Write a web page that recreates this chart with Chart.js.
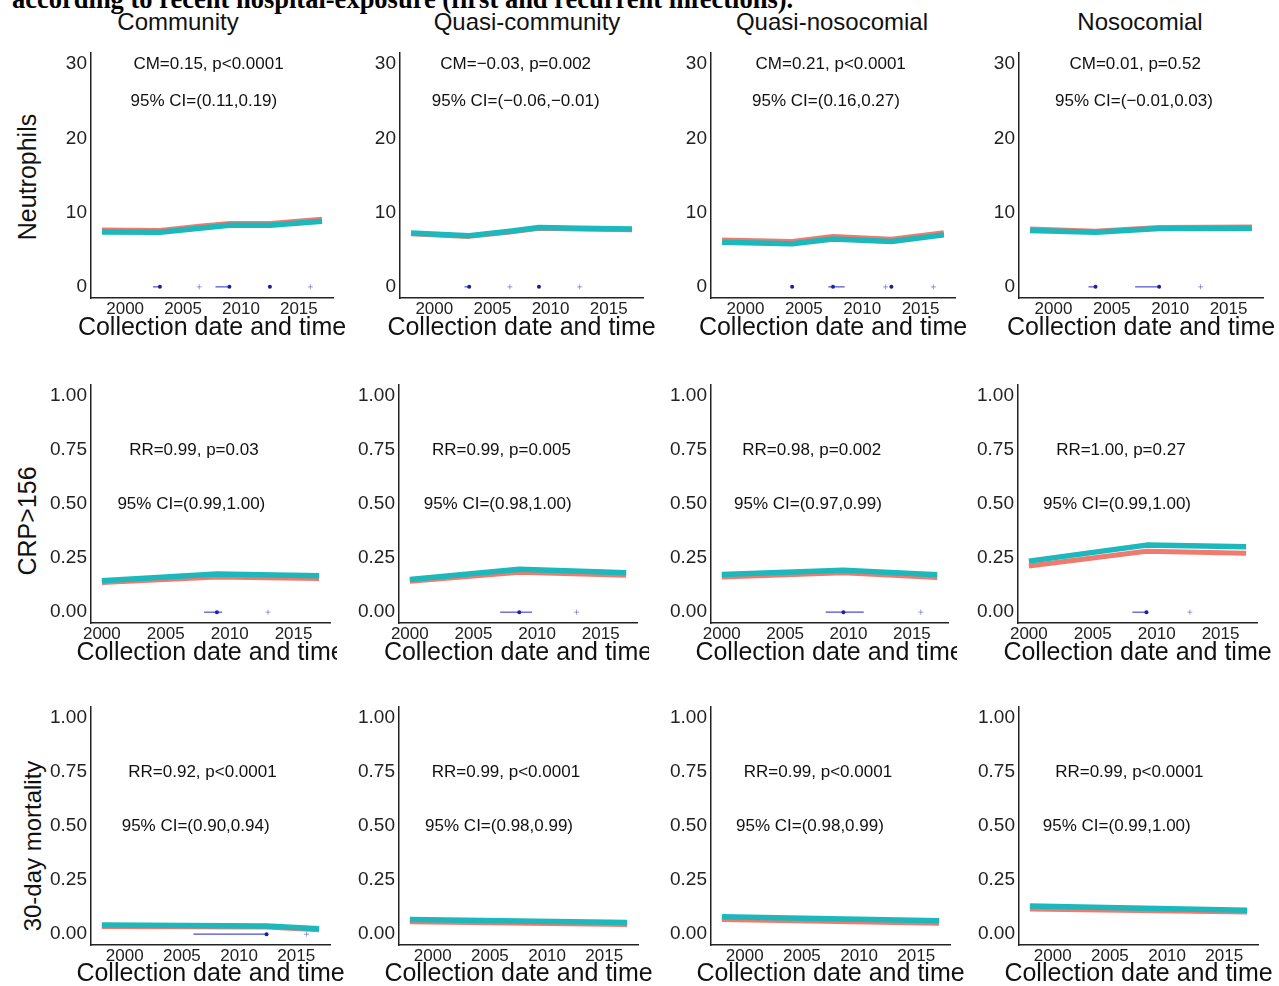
<!DOCTYPE html>
<html>
<head>
<meta charset="utf-8">
<script src="https://cdn.jsdelivr.net/npm/chart.js@4.4.1/dist/chart.umd.min.js"></script>
<style>
  html, body { margin: 0; padding: 0; background: #fff; overflow: hidden; }
  body { width: 1279px; height: 986px; position: relative; font-family: "Liberation Sans", Arial, sans-serif; color: #111; }
  canvas { position: absolute; }
  .lbl { position: absolute; white-space: nowrap; line-height: 1; transform: translate(-50%, -50%); }
  .rot { transform: translate(-50%, -50%) rotate(-90deg); }
  .caption { position: absolute; left: 12px; top: -14px; font-family: "Liberation Serif", "Times New Roman", serif;
             font-weight: bold; font-size: 26.5px; line-height: 26.5px; white-space: nowrap; color: #000; }
</style>
</head>
<body>
<div class="caption">according to recent hospital-exposure (first and recurrent infections).</div>
<script>
// panel titles / row titles
const columns = ['Community', 'Quasi-community', 'Quasi-nosocomial', 'Nosocomial'];
const outcomes = ['Neutrophils', 'CRP>156', '30-day mortality'];
const xTitle = 'Collection date and time';
const xTicks = [2000, 2005, 2010, 2015];
const neutTicks = [0, 10, 20, 30];
const propTicks = [0, 0.25, 0.5, 0.75, 1];

// Neutrophils: fitted segments (red = observed group, teal = second group)
const neutYears = [[1998, 2003, 2006.4, 2009, 2012.5, 2017], [1998, 2003, 2006.5, 2009, 2012.5, 2017],
                   [1998, 2004, 2007.5, 2012.5, 2017], [1998, 2003.6, 2009.05, 2017]];
const neutRed  = [[7.65, 7.6, 8.15, 8.55, 8.55, 9.1], [7.15, 6.8, 7.4, 7.9, 7.8, 7.7],
                  [6.3, 6.1, 6.8, 6.4, 7.3], [7.8, 7.5, 8.0, 8.05]];
const neutTeal = [[7.4, 7.35, 7.9, 8.3, 8.3, 8.85], [7.25, 6.9, 7.5, 8.0, 7.9, 7.8],
                  [6.0, 5.8, 6.45, 6.1, 7.0], [7.6, 7.35, 7.85, 7.9]];
const neutBp    = [[2003.0, 2009.0, 2012.5], [2003.0, 2009.0], [2004.0, 2007.5, 2012.5], [2003.6, 2009.05]];
const neutBpLo  = [[2002.4, 2007.8, 2012.5], [2002.6, 2009.0], [2004.0, 2007.1, 2012.5], [2003.0, 2007.0]];
const neutBpHi  = [[2003.0, 2009.0, 2012.5], [2003.0, 2009.0], [2004.0, 2008.5, 2012.5], [2003.6, 2009.05]];
const neutMinor = [[2006.4, 2016.0], [2006.5, 2012.5], [2012.0, 2016.1], [2012.6]];
const neutStat = ['CM=0.15, p<0.0001', 'CM=\u22120.03, p=0.002', 'CM=0.21, p<0.0001', 'CM=0.01, p=0.52'];
const neutCI   = ['95% CI=(0.11,0.19)', '95% CI=(\u22120.06,\u22120.01)', '95% CI=(0.16,0.27)', '95% CI=(\u22120.01,0.03)'];

// CRP>156
const crpYears = [[2000, 2009, 2017], [2000, 2008.6, 2017], [2000, 2009.6, 2017], [2000, 2009.2, 2017]];
const crpRed  = [[0.137, 0.163, 0.156], [0.143, 0.184, 0.171], [0.163, 0.182, 0.160], [0.213, 0.282, 0.272]];
const crpTeal = [[0.145, 0.176, 0.168], [0.151, 0.198, 0.182], [0.174, 0.194, 0.173], [0.236, 0.310, 0.302]];
const crpBp    = [[2009.0], [2008.6], [2009.6], [2009.2]];
const crpBpLo  = [[2008.0], [2007.1], [2008.2], [2008.1]];
const crpBpHi  = [[2009.4], [2009.6], [2011.2], [2009.2]];
const crpMinor = [[2013.0], [2013.1], [2015.7], [2012.6]];
const crpStat = ['RR=0.99, p=0.03', 'RR=0.99, p=0.005', 'RR=0.98, p=0.002', 'RR=1.00, p=0.27'];
const crpCI   = ['95% CI=(0.99,1.00)', '95% CI=(0.98,1.00)', '95% CI=(0.97,0.99)', '95% CI=(0.99,1.00)'];

// 30-day mortality
const mortYears = [[1998, 2012.4, 2017], [1998, 2017], [1998, 2017], [1998, 2017]];
const mortRed  = [[0.036, 0.033, 0.021], [0.058, 0.045], [0.068, 0.050], [0.116, 0.102]];
const mortTeal = [[0.042, 0.038, 0.025], [0.068, 0.054], [0.080, 0.062], [0.130, 0.111]];
const mortBp    = [[2012.4], [], [], []];
const mortBpLo  = [[2006.0], [], [], []];
const mortBpHi  = [[2012.4], [], [], []];
const mortMinor = [[2015.9], [], [], []];
const mortStat = ['RR=0.92, p<0.0001', 'RR=0.99, p<0.0001', 'RR=0.99, p<0.0001', 'RR=0.99, p<0.0001'];
const mortCI   = ['95% CI=(0.90,0.94)', '95% CI=(0.98,0.99)', '95% CI=(0.98,0.99)', '95% CI=(0.99,1.00)'];

const rows = [
  { years: neutYears, red: neutRed, teal: neutTeal, bp: neutBp, lo: neutBpLo, hi: neutBpHi, minor: neutMinor, stat: neutStat, ci: neutCI, ticks: neutTicks },
  { years: crpYears, red: crpRed, teal: crpTeal, bp: crpBp, lo: crpBpLo, hi: crpBpHi, minor: crpMinor, stat: crpStat, ci: crpCI, ticks: propTicks },
  { years: mortYears, red: mortRed, teal: mortTeal, bp: mortBp, lo: mortBpLo, hi: mortBpHi, minor: mortMinor, stat: mortStat, ci: mortCI, ticks: propTicks }
];

// layout of the grid (pixels) and where the stats text sits (data coords)
const geom = [
  { top: 53, bottom: 298, titleY: 328, left: [91, 400, 711, 1019], right: [333, 643, 955, 1263], clip: [355, 665, 975, 1279],
    yMin: -1.5, yMax: 31.5, xMin: 1997.05, xMax: 2017.95, statY: 30, ciY: 25,
    statX: [2007.2, 2007.0, 2007.3, 2007.0], ciX: [2006.8, 2007.0, 2006.9, 2006.9] },
  { top: 385, bottom: 623, titleY: 653, left: [91, 399, 711, 1018], right: [330, 637, 948, 1257], clip: [337, 649, 957, 1279],
    yMin: -0.05, yMax: 1.05, xMin: 1999.15, xMax: 2017.85, statY: 0.75, ciY: 0.5,
    statX: [2007.2, 2007.2, 2007.1, 2007.2], ciX: [2007.0, 2006.9, 2006.8, 2006.9] },
  { top: 707, bottom: 945, titleY: 974, left: [91, 399, 711, 1019], right: [330, 638, 950, 1258], clip: [350, 660, 970, 1279],
    yMin: -0.05, yMax: 1.05, xMin: 1997.05, xMax: 2017.95, statY: 0.75, ciY: 0.5,
    statX: [2006.8, 2006.4, 2006.4, 2006.7], ciX: [2006.2, 2005.8, 2005.7, 2005.6] }
];
const colTitleX = [178, 527, 832, 1140];
const rowTitlePos = [[27, 177, 25], [27, 521, 25], [33, 846, 24]];
const fontFam = '"Liberation Sans", Arial, sans-serif';

// stats annotations + x-axis title (drawn without squeezing to the plot width)
const panelText = {
  id: 'panelText',
  afterDraw(chart, args, opts) {
    const ctx = chart.ctx, xs = chart.scales.x, ys = chart.scales.y, a = chart.chartArea;
    ctx.save();
    ctx.fillStyle = '#111';
    ctx.textAlign = 'center';
    ctx.textBaseline = 'middle';
    ctx.font = '17px ' + fontFam;
    opts.items.forEach(it => ctx.fillText(it.text, xs.getPixelForValue(it.x), ys.getPixelForValue(it.y)));
    ctx.font = '25px ' + fontFam;
    ctx.fillText(xTitle, (a.left + a.right) / 2, opts.titleY);
    ctx.restore();
  }
};

function addLabel(text, x, y, size, rotate) {
  const el = document.createElement('div');
  el.className = rotate ? 'lbl rot' : 'lbl';
  el.textContent = text;
  el.style.left = x + 'px';
  el.style.top = y + 'px';
  el.style.fontSize = size + 'px';
  document.body.appendChild(el);
}

columns.forEach((t, i) => addLabel(t, colTitleX[i], 22, 24, false));
outcomes.forEach((t, i) => addLabel(t, rowTitlePos[i][0], rowTitlePos[i][1], rowTitlePos[i][2], true));

function makePanel(r, c) {
  const g = geom[r], d = rows[r];
  const yw = 48, padTop = 16;
  const left = g.left[c] - yw, top = g.top - padTop;
  const bottom = g.titleY + 13;
  const W = g.clip[c] - left, H = bottom - top;
  const xh = bottom - g.bottom;

  const cv = document.createElement('canvas');
  cv.width = W; cv.height = H;
  cv.style.left = left + 'px'; cv.style.top = top + 'px';
  cv.style.width = W + 'px'; cv.style.height = H + 'px';
  document.body.appendChild(cv);

  const datasets = [];
  d.bp[c].forEach((b, i) => datasets.push({
    data: [{ x: d.lo[c][i], y: 0 }, { x: d.hi[c][i], y: 0 }],
    borderColor: 'rgba(45,45,200,0.85)', borderWidth: 1.2, pointRadius: 0
  }));
  datasets.push({
    data: d.bp[c].map(x => ({ x, y: 0 })), showLine: false,
    pointRadius: 2, pointBackgroundColor: '#1a1a9a', pointBorderWidth: 0
  });
  datasets.push({
    data: d.minor[c].map(x => ({ x, y: 0 })), showLine: false, pointStyle: 'cross',
    pointRadius: 2.5, pointBorderColor: 'rgba(90,90,210,0.6)', pointBorderWidth: 1
  });
  datasets.push({
    data: d.years[c].map((x, i) => ({ x, y: d.teal[c][i] })),
    borderColor: '#1db8bb', borderWidth: 5.5, pointRadius: 0, borderCapStyle: 'butt', borderJoinStyle: 'round'
  });
  datasets.push({
    data: d.years[c].map((x, i) => ({ x, y: d.red[c][i] })),
    borderColor: '#f07a6e', borderWidth: 5, pointRadius: 0, borderCapStyle: 'butt', borderJoinStyle: 'round'
  });

  new Chart(cv, {
    type: 'line',
    data: { datasets },
    plugins: [panelText],
    options: {
      responsive: false, animation: false, devicePixelRatio: 1,
      layout: { padding: { left: 0, top: padTop, right: g.clip[c] - g.right[c], bottom: 0 } },
      plugins: {
        legend: { display: false }, tooltip: { enabled: false },
        panelText: {
          titleY: g.titleY - top,
          items: [
            { text: d.stat[c], x: g.statX[c], y: g.statY },
            { text: d.ci[c], x: g.ciX[c], y: g.ciY }
          ]
        }
      },
      scales: {
        x: {
          type: 'linear', min: g.xMin, max: g.xMax,
          afterBuildTicks: s => { s.ticks = xTicks.map(v => ({ value: v })); },
          afterFit: s => { s.height = xh; },
          grid: { display: false, drawTicks: false },
          border: { display: true, color: '#222', width: 1.5 },
          ticks: { autoSkip: false, maxRotation: 0, padding: 1, color: '#222',
                   font: { family: fontFam, size: 17 }, callback: v => String(v) }
        },
        y: {
          type: 'linear', min: g.yMin, max: g.yMax,
          afterBuildTicks: s => { s.ticks = d.ticks.map(v => ({ value: v })); },
          afterFit: s => { s.width = yw; },
          grid: { display: false, drawTicks: false },
          border: { display: true, color: '#222', width: 1.5 },
          ticks: { autoSkip: false, padding: 4, color: '#222',
                   font: { family: fontFam, size: 19 },
                   callback: v => r === 0 ? String(v) : v.toFixed(2) }
        }
      }
    }
  });
}

for (let r = 0; r < 3; r++) for (let c = 0; c < 4; c++) makePanel(r, c);
</script>
</body>
</html>
